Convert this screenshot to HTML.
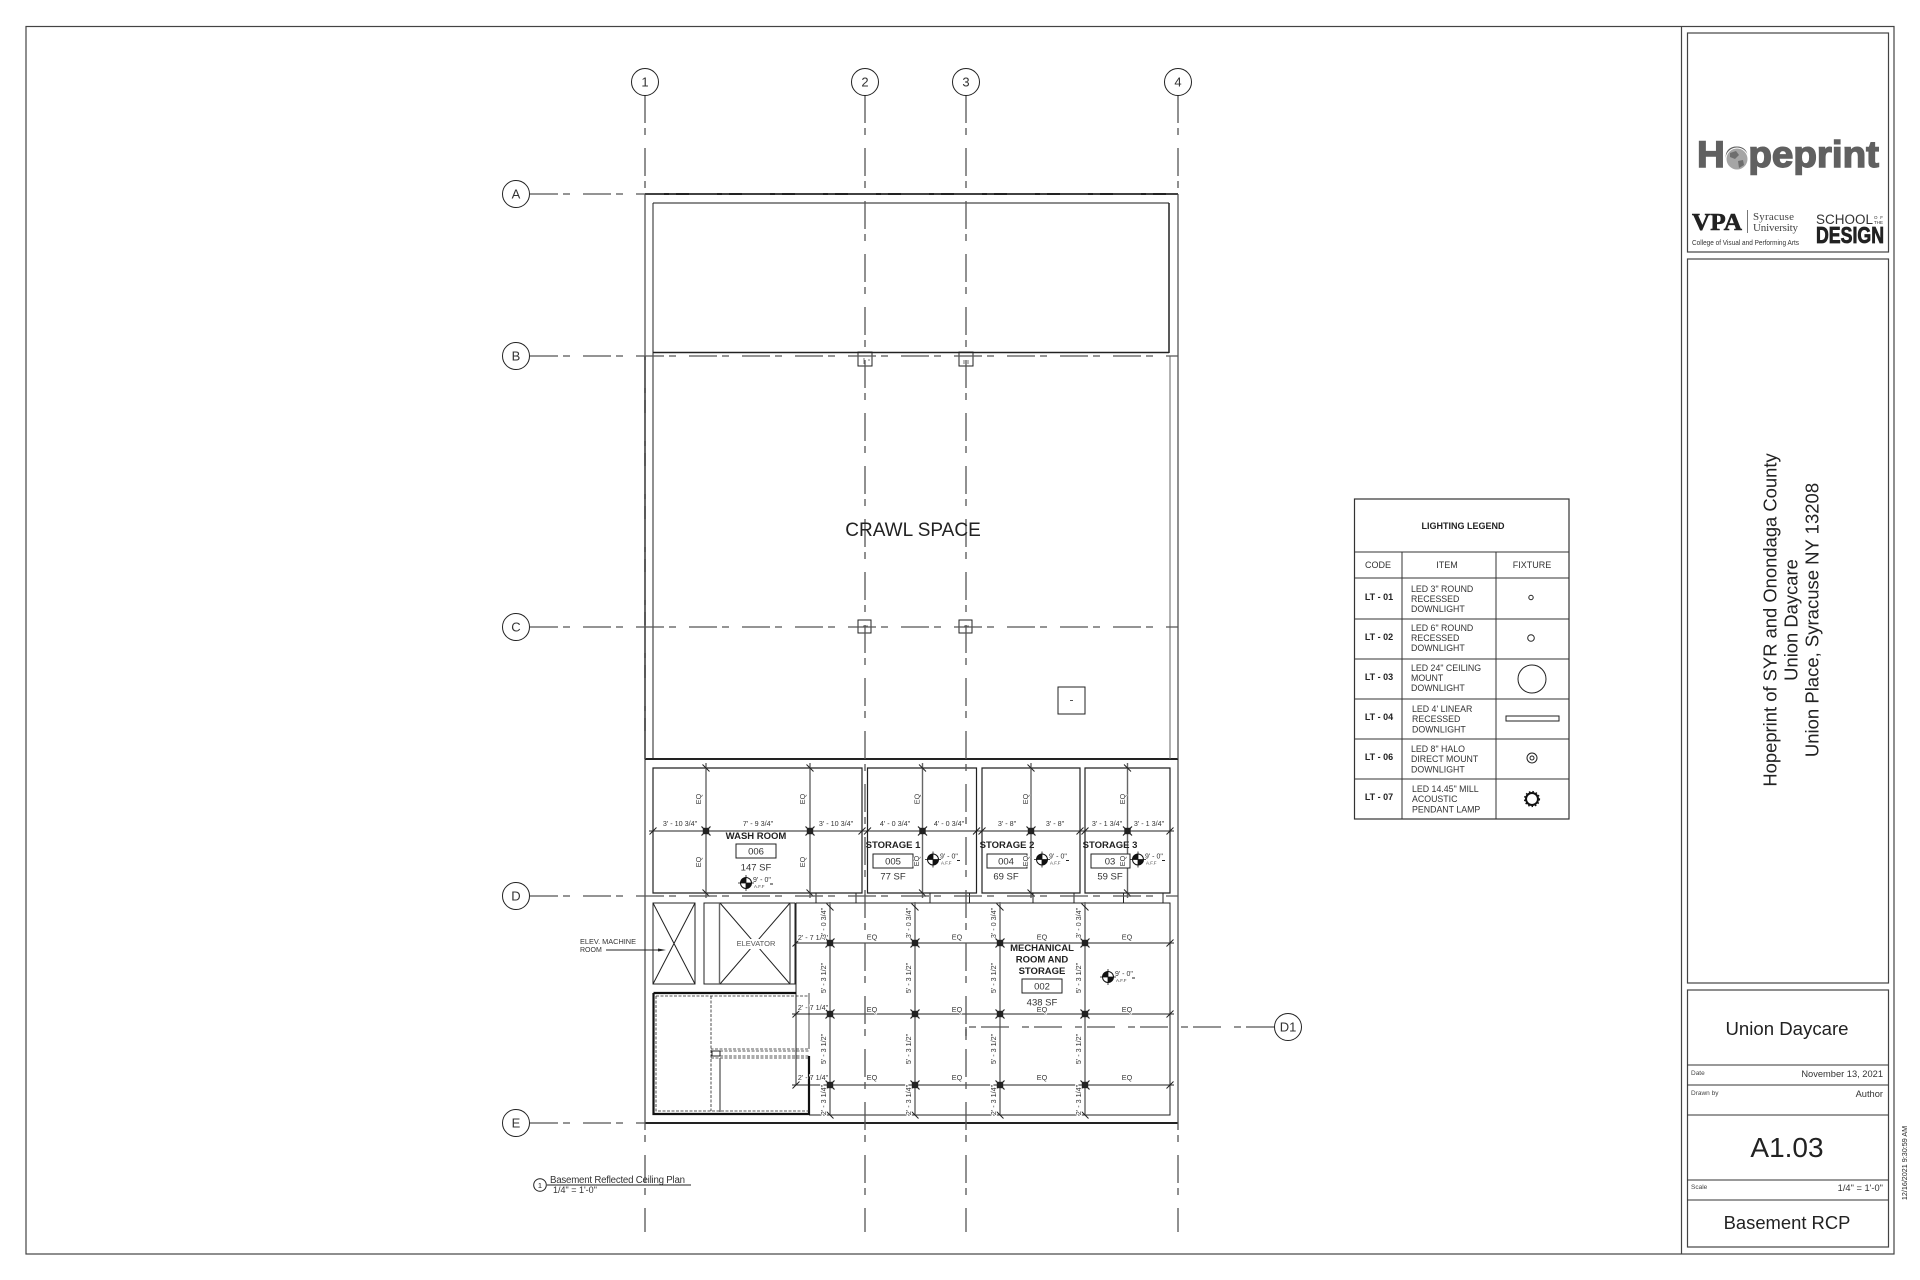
<!DOCTYPE html>
<html lang="en">
<head>
<meta charset="utf-8">
<title>Basement RCP - A1.03</title>
<style>
html,body{margin:0;padding:0;background:#fff}
svg{display:block}
text{font-family:"Liberation Sans",sans-serif;fill:#222}
.grid{stroke:#555;stroke-width:1.3;stroke-dasharray:28 5 7 13;fill:none}
.k{stroke:#222;stroke-width:1;fill:none}
.k2{stroke:#222;stroke-width:1.5;fill:none}
.k3{stroke:#222;stroke-width:2;fill:none}
.g{stroke:#666;stroke-width:1.4;fill:none}
.bub{fill:#fff;stroke:#222;stroke-width:1}
.bt{font-size:13px;text-anchor:middle;fill:#333}
.d{font-size:7.2px;text-anchor:middle;fill:#333;paint-order:stroke;stroke:#fff;stroke-width:1.6px}
.r{font-size:9.5px;font-weight:bold;text-anchor:middle}
.n{font-size:9.5px;text-anchor:middle;fill:#333}
.t{fill:#fff;stroke:#222;stroke-width:1}
.m{font-size:7px;fill:#333}
.a{font-size:4.5px;fill:#444}
.li{font-size:8.8px;fill:#333}
.lc{font-size:9px;font-weight:bold;text-anchor:middle}
.lh{font-size:9px;text-anchor:middle;fill:#333}
.sm{font-size:6.5px;fill:#444}
.md{font-size:9.3px;fill:#333;text-anchor:end}
</style>
</head>
<body>
<svg xmlns="http://www.w3.org/2000/svg" width="1920" height="1280" viewBox="0 0 1920 1280">
<defs>
<path id="t1" d="M-3.5,-3.5L3.5,3.5" stroke="#222" stroke-width="1" fill="none"/>
<path id="t2" d="M-3.5,3.5L3.5,-3.5" stroke="#222" stroke-width="1" fill="none"/>
<g id="dot"><rect x="-3.2" y="-3.2" width="6.4" height="6.4" fill="#222"/><path d="M-4.5,-4.5L4.5,4.5M-4.5,4.5L4.5,-4.5" stroke="#222" stroke-width="1.2"/></g>
<g id="lvs"><circle r="5.5" fill="#111"/><path d="M0,0V-5.5A5.5,5.5 0 0 1 5.5,0ZM0,0V5.5A5.5,5.5 0 0 1 -5.5,0Z" fill="#fff"/><circle r="5.5" fill="none" stroke="#111"/><path d="M0,-8V8M-8,0H8" stroke="#111" stroke-width=".8"/></g>
</defs>
<rect width="1920" height="1280" fill="#fff"/>

<!-- Sheet frame -->
<rect x="26" y="26.5" width="1868" height="1227.5" fill="none" stroke="#444" stroke-width="1.2"/>
<path d="M1681.5,26V1254" stroke="#444" stroke-width="1.2"/>
<rect x="1687.5" y="33" width="201" height="219" fill="none" stroke="#444" stroke-width="1.2"/>
<rect x="1687.5" y="259" width="201" height="724" fill="none" stroke="#444" stroke-width="1.2"/>
<rect x="1687.5" y="990" width="201" height="257" fill="none" stroke="#444" stroke-width="1.2"/>
<path d="M1687,1065H1888M1687,1085H1888M1687,1115H1888M1687,1180H1888M1687,1200H1888" stroke="#333" stroke-width="1"/>

<!-- Logos -->
<text x="1697" y="167" font-size="37" font-weight="bold" style="fill:#606060;stroke:#606060;stroke-width:1.4" textLength="182" lengthAdjust="spacingAndGlyphs">Hopeprint</text>
<circle cx="1737" cy="159" r="11.5" fill="#fff"/>
<circle cx="1737" cy="159" r="10.5" fill="#a5a5a5"/>
<path d="M1730,153l6,-2l3,4l-4,4l-5,-2zM1738,161l5,-1l1,5l-5,3z" fill="#6e6e6e"/>
<text x="1692" y="230" font-size="24" font-weight="bold" style="font-family:'Liberation Serif',serif;fill:#222;stroke:#222;stroke-width:.6" textLength="50" lengthAdjust="spacingAndGlyphs">VPA</text>
<path d="M1747.5,210V233" stroke="#777"/>
<text x="1753" y="220" font-size="11" style="font-family:'Liberation Serif',serif;fill:#444" textLength="41">Syracuse</text>
<text x="1753" y="231" font-size="11" style="font-family:'Liberation Serif',serif;fill:#444" textLength="45">University</text>
<text x="1692" y="245" font-size="7" style="fill:#333" textLength="107" lengthAdjust="spacingAndGlyphs">College of Visual and Performing Arts</text>
<text x="1816" y="224" font-size="13.5" style="fill:#333" textLength="57" lengthAdjust="spacingAndGlyphs">SCHOOL</text>
<text x="1874" y="219" font-size="4.5" style="fill:#333" textLength="9">OF</text>
<text x="1874" y="224" font-size="4.5" style="fill:#333" textLength="9">THE</text>
<text x="1816" y="243" font-size="23" font-weight="bold" style="fill:#222;stroke:#222;stroke-width:.8" textLength="68" lengthAdjust="spacingAndGlyphs">DESIGN</text>

<!-- Title block text -->
<g transform="translate(1776.5,620) rotate(-90)"><text text-anchor="middle" font-size="18.4">Hopeprint of SYR and Onondaga County</text></g>
<g transform="translate(1797.5,620) rotate(-90)"><text text-anchor="middle" font-size="18.4">Union Daycare</text></g>
<g transform="translate(1818.5,620) rotate(-90)"><text text-anchor="middle" font-size="18.5">Union Place, Syracuse NY 13208</text></g>
<text x="1787" y="1035" text-anchor="middle" font-size="18.6">Union Daycare</text>
<text class="sm" x="1691" y="1075">Date</text>
<text class="md" x="1883" y="1077">November 13, 2021</text>
<text class="sm" x="1691" y="1095">Drawn by</text>
<text class="md" x="1883" y="1097">Author</text>
<text x="1787" y="1157" text-anchor="middle" font-size="28">A1.03</text>
<text class="sm" x="1691" y="1189">Scale</text>
<text class="md" x="1883" y="1191">1/4" = 1'-0"</text>
<text x="1787" y="1229" text-anchor="middle" font-size="18.4">Basement RCP</text>
<g transform="translate(1907,1163) rotate(-90)"><text text-anchor="middle" font-size="7.2">12/16/2021 9:30:59 AM</text></g>

<!-- Structure -->
<path class="k" d="M645,194V1123M1178,194V1123"/>
<path class="k2" d="M645,356V759"/>
<path class="k3" d="M645,194H1178M645,759H1178M645,1123H1178"/>
<path class="g" d="M653,203H1169"/>
<path class="k" d="M653,203V759"/>
<path class="k2" d="M1169,203V353M653,352.5H1169"/>
<path class="g" d="M1170,356V759" style="stroke-width:1"/>
<rect class="k" x="1058" y="687" width="27" height="27"/>
<path d="M1070,700.5h3" stroke="#555"/>
<!-- Column squares -->
<rect class="k" x="858" y="352" width="14" height="14"/><rect class="k" x="959" y="352" width="14" height="14"/>
<rect class="k" x="858" y="620" width="13" height="13"/><rect class="k" x="959" y="620" width="13" height="13"/>
<path d="M864,358v6M868,360h2M964,360v4M968,360v4M863,626h5M964,626h5" stroke="#555" stroke-width=".8"/>

<!-- Upper rooms -->
<path class="k" style="stroke-width:1.2" d="M653,768H862V893H653ZM867.5,768H976.5V893H867.5ZM982,768H1080V893H982ZM1085,768H1170V893H1085Z"/>
<path class="k" d="M796,903H1170V1115H809M816,893V903M856,893V903M930,893V903M969.5,893V903M1033,893V903M1074,893V903M1123.5,893V903M1163,893V903"/>
<path class="g" d="M706,763V898M810,763V898M922.5,763V898M1031,763V898M1127.5,763V898"/>
<path class="k" d="M649,831H1174"/>
<use href="#t1" x="706" y="768"/><use href="#t1" x="810" y="768"/><use href="#t1" x="922.5" y="768"/><use href="#t1" x="1031" y="768"/><use href="#t1" x="1127.5" y="768"/>
<use href="#t1" x="706" y="893"/><use href="#t1" x="810" y="893"/><use href="#t1" x="922.5" y="893"/><use href="#t1" x="1031" y="893"/><use href="#t1" x="1127.5" y="893"/>
<use href="#t2" x="653" y="831"/><use href="#t2" x="862" y="831"/><use href="#t2" x="867.5" y="831"/><use href="#t2" x="976.5" y="831"/><use href="#t2" x="982" y="831"/><use href="#t2" x="1080" y="831"/><use href="#t2" x="1085" y="831"/><use href="#t2" x="1170" y="831"/>
<use href="#dot" x="706" y="831"/><use href="#dot" x="810" y="831"/><use href="#dot" x="922.5" y="831"/><use href="#dot" x="1031" y="831"/><use href="#dot" x="1127.5" y="831"/>

<!-- Lower dimension string -->
<path class="g" d="M830,902V1115M915,902V1115M1000,902V1115M1085,902V1115"/>
<path class="k" d="M796,943H1174M792,1014H1174M792,1085H1174"/>
<use href="#t1" x="830" y="907"/><use href="#t1" x="915" y="907"/><use href="#t1" x="1000" y="907"/><use href="#t1" x="1085" y="907"/>
<use href="#t1" x="830" y="1115"/><use href="#t1" x="915" y="1115"/><use href="#t1" x="1000" y="1115"/><use href="#t1" x="1085" y="1115"/>
<use href="#t2" x="796" y="943"/><use href="#t2" x="796" y="1014"/><use href="#t2" x="796" y="1085"/>
<use href="#t2" x="1170" y="943"/><use href="#t2" x="1170" y="1014"/><use href="#t2" x="1170" y="1085"/>
<use href="#dot" x="830" y="943"/><use href="#dot" x="915" y="943"/><use href="#dot" x="1000" y="943"/><use href="#dot" x="1085" y="943"/>
<use href="#dot" x="830" y="1014"/><use href="#dot" x="915" y="1014"/><use href="#dot" x="1000" y="1014"/><use href="#dot" x="1085" y="1014"/>
<use href="#dot" x="830" y="1085"/><use href="#dot" x="915" y="1085"/><use href="#dot" x="1000" y="1085"/><use href="#dot" x="1085" y="1085"/>

<!-- Elevators -->
<rect class="k" x="653" y="903" width="42" height="81"/>
<path class="k" d="M653,903L695,984M695,903L653,984"/>
<rect class="k" x="704" y="903" width="91" height="81"/>
<path class="g" d="M719.5,903V984M790,903V984"/>
<path class="k" d="M720,903L790,984M790,903L720,984"/>
<rect x="738" y="939" width="37" height="10" fill="#fff"/>
<text x="756" y="946" text-anchor="middle" font-size="7.5" style="fill:#555">ELEVATOR</text>
<path class="k" d="M796,903V1085"/>

<!-- Thick dashed area -->
<path d="M653.5,993H796M653.5,993V1114H809V1056" fill="none" stroke="#111" stroke-width="2.2"/>
<path d="M656,996H809V1049H711M656,996V1111H809M711,996V1111M711,1051H809M711,1056H809M711,1058H809M809,993V1049" fill="none" stroke="#222" stroke-width=".8" stroke-dasharray="3 1.5"/>
<path class="g" d="M720,1058V1112"/>
<rect class="k" x="712" y="1051" width="8" height="5"/>

<!-- Grid lines -->
<path class="grid" d="M645,95V1232"/>
<path class="grid" d="M865,95V1232"/>
<path class="grid" d="M966,95V1232"/>
<path class="grid" d="M1178,95V1232"/>
<path class="grid" d="M530,194H1178"/>
<path class="grid" d="M530,356H1178"/>
<path class="grid" d="M530,627H1178"/>
<path class="grid" d="M530,896H1178"/>
<path class="grid" d="M530,1123H645"/>
<path class="grid" d="M1274,1027H966"/>
<path class="k" d="M966,1027V1040"/>

<!-- Grid bubbles -->
<circle class="bub" cx="645" cy="82" r="13.5"/><text class="bt" x="645" y="86.5">1</text>
<circle class="bub" cx="865" cy="82" r="13.5"/><text class="bt" x="865" y="86.5">2</text>
<circle class="bub" cx="966" cy="82" r="13.5"/><text class="bt" x="966" y="86.5">3</text>
<circle class="bub" cx="1178" cy="82" r="13.5"/><text class="bt" x="1178" y="86.5">4</text>
<circle class="bub" cx="516" cy="194" r="13.5"/><text class="bt" x="516" y="198.5">A</text>
<circle class="bub" cx="516" cy="356" r="13.5"/><text class="bt" x="516" y="360.5">B</text>
<circle class="bub" cx="516" cy="627" r="13.5"/><text class="bt" x="516" y="631.5">C</text>
<circle class="bub" cx="516" cy="896" r="13.5"/><text class="bt" x="516" y="900.5">D</text>
<circle class="bub" cx="516" cy="1123" r="13.5"/><text class="bt" x="516" y="1127.5">E</text>
<circle class="bub" cx="1288" cy="1027" r="13.5"/><text class="bt" x="1288" y="1031.5">D1</text>

<text x="913" y="536" text-anchor="middle" font-size="19" style="fill:#222">CRAWL SPACE</text>

<!-- Upper dimensions -->
<text class="d" x="680" y="826">3' - 10 3/4"</text><text class="d" x="758" y="826">7' - 9 3/4"</text><text class="d" x="836" y="826">3' - 10 3/4"</text>
<text class="d" x="895" y="826">4' - 0 3/4"</text><text class="d" x="949" y="826">4' - 0 3/4"</text>
<text class="d" x="1007" y="826">3' - 8"</text><text class="d" x="1055" y="826">3' - 8"</text>
<text class="d" x="1107" y="826">3' - 1 3/4"</text><text class="d" x="1149" y="826">3' - 1 3/4"</text>
<g transform="translate(701,799) rotate(-90)"><text class="d">EQ</text></g>
<g transform="translate(701,862) rotate(-90)"><text class="d">EQ</text></g>
<g transform="translate(805,799) rotate(-90)"><text class="d">EQ</text></g>
<g transform="translate(805,862) rotate(-90)"><text class="d">EQ</text></g>
<g transform="translate(919.5,799) rotate(-90)"><text class="d">EQ</text></g>
<g transform="translate(1028,799) rotate(-90)"><text class="d">EQ</text></g>
<g transform="translate(1125,799) rotate(-90)"><text class="d">EQ</text></g>

<!-- Lower dimensions -->
<text class="d" x="813" y="940">2' - 7 1/4"</text><text class="d" x="813" y="1010">2' - 7 1/4"</text><text class="d" x="813" y="1080">2' - 7 1/4"</text>
<text class="d" x="872" y="939.5">EQ</text><text class="d" x="957" y="939.5">EQ</text><text class="d" x="1042" y="939.5">EQ</text><text class="d" x="1127" y="939.5">EQ</text>
<text class="d" x="872" y="1012">EQ</text><text class="d" x="957" y="1012">EQ</text><text class="d" x="1042" y="1012">EQ</text><text class="d" x="1127" y="1012">EQ</text>
<text class="d" x="872" y="1080">EQ</text><text class="d" x="957" y="1080">EQ</text><text class="d" x="1042" y="1080">EQ</text><text class="d" x="1127" y="1080">EQ</text>
<g transform="translate(826,923) rotate(-90)"><text class="d">3' - 0 3/4"</text></g>
<g transform="translate(826,978) rotate(-90)"><text class="d">5' - 3 1/2"</text></g>
<g transform="translate(826,1049) rotate(-90)"><text class="d">5' - 3 1/2"</text></g>
<g transform="translate(826,1100) rotate(-90)"><text class="d">2' - 3 1/4"</text></g>
<g transform="translate(911,923) rotate(-90)"><text class="d">3' - 0 3/4"</text></g>
<g transform="translate(911,978) rotate(-90)"><text class="d">5' - 3 1/2"</text></g>
<g transform="translate(911,1049) rotate(-90)"><text class="d">5' - 3 1/2"</text></g>
<g transform="translate(911,1100) rotate(-90)"><text class="d">2' - 3 1/4"</text></g>
<g transform="translate(996,923) rotate(-90)"><text class="d">3' - 0 3/4"</text></g>
<g transform="translate(996,978) rotate(-90)"><text class="d">5' - 3 1/2"</text></g>
<g transform="translate(996,1049) rotate(-90)"><text class="d">5' - 3 1/2"</text></g>
<g transform="translate(996,1100) rotate(-90)"><text class="d">2' - 3 1/4"</text></g>
<g transform="translate(1081,923) rotate(-90)"><text class="d">3' - 0 3/4"</text></g>
<g transform="translate(1081,978) rotate(-90)"><text class="d">5' - 3 1/2"</text></g>
<g transform="translate(1081,1049) rotate(-90)"><text class="d">5' - 3 1/2"</text></g>
<g transform="translate(1081,1100) rotate(-90)"><text class="d">2' - 3 1/4"</text></g>

<!-- Room tags -->
<text class="r" x="756" y="839">WASH ROOM</text>
<rect class="t" x="736" y="844" width="40" height="14"/><text class="n" x="756" y="854.5">006</text>
<text class="n" x="756" y="870.5">147 SF</text>
<text class="r" x="893" y="848">STORAGE 1</text>
<rect class="t" x="873" y="854" width="40" height="14"/><text class="n" x="893" y="864.5">005</text>
<text class="n" x="893" y="879.5">77 SF</text>
<text class="r" x="1007" y="848">STORAGE 2</text>
<rect class="t" x="987" y="854" width="40" height="14"/><text class="n" x="1006" y="864.5">004</text>
<text class="n" x="1006" y="879.5">69 SF</text>
<text class="r" x="1110" y="848">STORAGE 3</text>
<rect class="t" x="1091" y="854" width="39" height="14"/><text class="n" x="1110" y="864.5">03</text>
<text class="n" x="1110" y="879.5">59 SF</text>
<g transform="translate(919,861) rotate(-90)"><text class="d">EQ</text></g>
<g transform="translate(1028,861) rotate(-90)"><text class="d">EQ</text></g>
<g transform="translate(1125,861) rotate(-90)"><text class="d">EQ</text></g>
<text class="r" x="1042" y="951">MECHANICAL</text>
<text class="r" x="1042" y="962.5">ROOM AND</text>
<text class="r" x="1042" y="974">STORAGE</text>
<rect class="t" x="1022" y="979" width="40" height="14"/><text class="n" x="1042" y="989.5">002</text>
<text class="n" x="1042" y="1005.5">438 SF</text>

<!-- Ceiling heights -->
<g transform="translate(746,883)"><use href="#lvs"/><text class="m" x="7" y="-1">9' - 0"</text><text class="a" x="8" y="5">A.F.F</text><path d="M24,1h3" stroke="#222"/></g>
<g transform="translate(933,859.5)"><use href="#lvs"/><text class="m" x="7" y="-1">9' - 0"</text><text class="a" x="8" y="5">A.F.F</text><path d="M24,1h3" stroke="#222"/></g>
<g transform="translate(1042,859.5)"><use href="#lvs"/><text class="m" x="7" y="-1">9' - 0"</text><text class="a" x="8" y="5">A.F.F</text><path d="M24,1h3" stroke="#222"/></g>
<g transform="translate(1138,859.5)"><use href="#lvs"/><text class="m" x="7" y="-1">9' - 0"</text><text class="a" x="8" y="5">A.F.F</text><path d="M24,1h3" stroke="#222"/></g>
<g transform="translate(1108,977)"><use href="#lvs"/><text class="m" x="7" y="-1">9' - 0"</text><text class="a" x="8" y="5">A.F.F</text><path d="M24,1h3" stroke="#222"/></g>

<!-- Machine room note -->
<text x="580" y="944" font-size="7" style="fill:#333" textLength="56" lengthAdjust="spacingAndGlyphs">ELEV. MACHINE</text>
<text x="580" y="952" font-size="7" style="fill:#333">ROOM</text>
<path class="k" d="M606,950H660"/><path d="M658,948.5L666,950L658,951.5Z" fill="#222"/>

<!-- Caption -->
<circle class="bub" cx="540" cy="1185" r="6.3"/><text x="540" y="1188" text-anchor="middle" font-size="7.5">1</text>
<text x="550" y="1183" font-size="9.7" style="fill:#333" textLength="135">Basement Reflected Ceiling Plan</text>
<path class="k" d="M547,1185H691"/>
<text x="553" y="1193" font-size="9" style="fill:#333">1/4" = 1'-0"</text>

<!-- Lighting legend -->
<rect x="1354.5" y="499" width="214.5" height="320" fill="#fff" stroke="#333" stroke-width="1.2"/>
<path d="M1354,552H1569M1354,578H1569M1354,619H1569M1354,659H1569M1354,699H1569M1354,739H1569M1354,779H1569M1402,552V819M1496,552V819" stroke="#333" stroke-width="1" fill="none"/>
<text x="1463" y="529" text-anchor="middle" font-size="9" font-weight="bold">LIGHTING LEGEND</text>
<text class="lh" x="1378" y="568">CODE</text><text class="lh" x="1447" y="568">ITEM</text><text class="lh" x="1532" y="568">FIXTURE</text>
<text class="lc" x="1379" y="600">LT - 01</text>
<text class="li" x="1411" y="592">LED 3" ROUND</text><text class="li" x="1411" y="602">RECESSED</text><text class="li" x="1411" y="612">DOWNLIGHT</text>
<text class="lc" x="1379" y="640">LT - 02</text>
<text class="li" x="1411" y="631">LED 6" ROUND</text><text class="li" x="1411" y="641">RECESSED</text><text class="li" x="1411" y="651">DOWNLIGHT</text>
<text class="lc" x="1379" y="680">LT - 03</text>
<text class="li" x="1411" y="671">LED 24" CEILING</text><text class="li" x="1411" y="681">MOUNT</text><text class="li" x="1411" y="691">DOWNLIGHT</text>
<text class="lc" x="1379" y="720">LT - 04</text>
<text class="li" x="1412" y="712">LED 4' LINEAR</text><text class="li" x="1412" y="722">RECESSED</text><text class="li" x="1412" y="732.5">DOWNLIGHT</text>
<text class="lc" x="1379" y="760">LT - 06</text>
<text class="li" x="1411" y="752">LED 8" HALO</text><text class="li" x="1411" y="762">DIRECT MOUNT</text><text class="li" x="1411" y="772.5">DOWNLIGHT</text>
<text class="lc" x="1379" y="800">LT - 07</text>
<text class="li" x="1412" y="792">LED 14.45" MILL</text><text class="li" x="1412" y="802">ACOUSTIC</text><text class="li" x="1412" y="812.5">PENDANT LAMP</text>
<circle cx="1531" cy="597.5" r="2.2" class="k"/>
<circle cx="1531" cy="638" r="3.3" class="k"/>
<circle cx="1532" cy="679" r="14" class="k"/>
<rect x="1506" y="716" width="53" height="5" class="k"/>
<circle cx="1532" cy="758" r="5" class="k"/><circle cx="1532" cy="758" r="2" class="k"/>
<circle cx="1532" cy="799" r="6" fill="none" stroke="#111" stroke-width="2"/>
<circle cx="1532" cy="799" r="7.4" fill="none" stroke="#111" stroke-width="1.4" stroke-dasharray="1.5 2"/>
</svg>
</body>
</html>
